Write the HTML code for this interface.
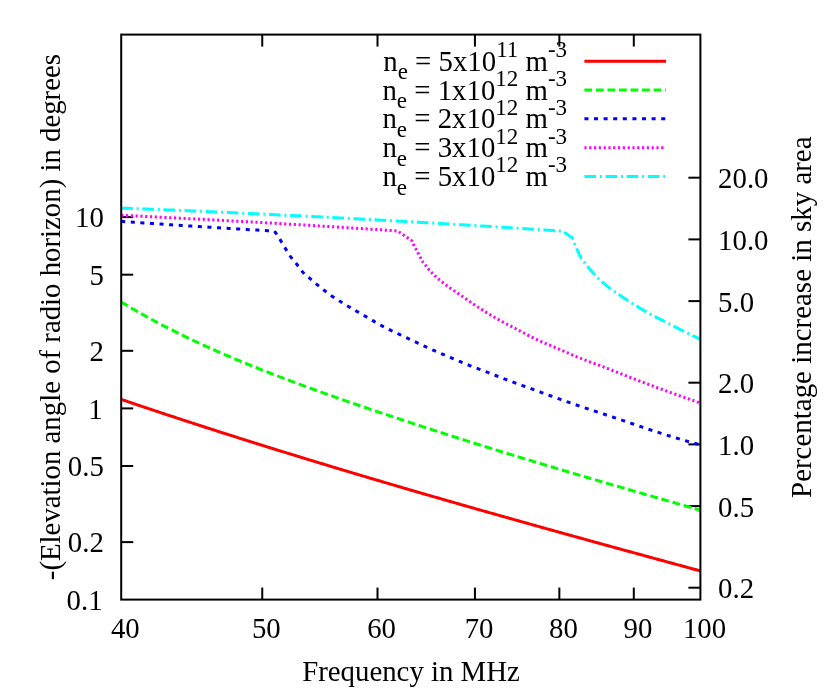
<!DOCTYPE html>
<html><head><meta charset="utf-8"><title>Radio horizon</title>
<style>html,body{margin:0;padding:0;background:#fff;}svg{display:block;will-change:transform;}text{font-family:"Liberation Serif",serif;}</style></head>
<body>
<svg width="830" height="692" viewBox="0 0 830 692">
<rect x="0" y="0" width="830" height="692" fill="#ffffff"/>
<g fill="none" stroke="#000" stroke-width="2.0" stroke-linecap="butt">
<path d="M121.2,542.11 h12.0"/>
<path d="M121.2,465.99 h12.0"/>
<path d="M121.2,408.40 h12.0"/>
<path d="M121.2,350.81 h12.0"/>
<path d="M121.2,274.69 h12.0"/>
<path d="M121.2,217.10 h12.0"/>
<path d="M700.4,587.69 h-12.0"/>
<path d="M700.4,506.11 h-12.0"/>
<path d="M700.4,444.40 h-12.0"/>
<path d="M700.4,382.69 h-12.0"/>
<path d="M700.4,301.11 h-12.0"/>
<path d="M700.4,239.40 h-12.0"/>
<path d="M700.4,177.69 h-12.0"/>
<path d="M262.25,599.6 v-12.0"/>
<path d="M262.25,34.6 v12.0"/>
<path d="M377.50,599.6 v-12.0"/>
<path d="M377.50,34.6 v12.0"/>
<path d="M474.94,599.6 v-12.0"/>
<path d="M474.94,34.6 v12.0"/>
<path d="M559.35,599.6 v-12.0"/>
<path d="M559.35,34.6 v12.0"/>
<path d="M633.80,599.6 v-12.0"/>
<path d="M633.80,34.6 v12.0"/>
</g>
<g fill="none" stroke-width="3.0" stroke-linejoin="miter" stroke-linecap="butt">
<path d="M121.20,399.41 L123.20,400.09 L125.20,400.77 L127.20,401.44 L129.20,402.12 L131.20,402.79 L133.20,403.47 L135.20,404.14 L137.20,404.81 L139.20,405.49 L141.20,406.16 L143.20,406.83 L145.20,407.50 L147.20,408.16 L149.20,408.83 L151.20,409.50 L153.20,410.16 L155.20,410.83 L157.20,411.49 L159.20,412.16 L161.20,412.82 L163.20,413.48 L165.20,414.14 L167.20,414.80 L169.20,415.46 L171.20,416.12 L173.20,416.78 L175.20,417.44 L177.20,418.09 L179.20,418.75 L181.20,419.40 L183.20,420.06 L185.20,420.71 L187.20,421.36 L189.20,422.01 L191.20,422.66 L193.20,423.31 L195.20,423.96 L197.20,424.61 L199.20,425.26 L201.20,425.91 L203.20,426.55 L205.20,427.20 L207.20,427.84 L209.20,428.49 L211.20,429.13 L213.20,429.77 L215.20,430.42 L217.20,431.06 L219.20,431.70 L221.20,432.34 L223.20,432.98 L225.20,433.61 L227.20,434.25 L229.20,434.89 L231.20,435.52 L233.20,436.16 L235.20,436.80 L237.20,437.43 L239.20,438.06 L241.20,438.70 L243.20,439.33 L245.20,439.96 L247.20,440.59 L249.20,441.22 L251.20,441.85 L253.20,442.48 L255.20,443.10 L257.20,443.73 L259.20,444.36 L261.20,444.98 L263.20,445.61 L265.20,446.23 L267.20,446.86 L269.20,447.48 L271.20,448.10 L273.20,448.72 L275.20,449.35 L277.20,449.97 L279.20,450.59 L281.20,451.20 L283.20,451.82 L285.20,452.44 L287.20,453.06 L289.20,453.68 L291.20,454.29 L293.20,454.91 L295.20,455.52 L297.20,456.14 L299.20,456.75 L301.20,457.36 L303.20,457.97 L305.20,458.59 L307.20,459.20 L309.20,459.81 L311.20,460.42 L313.20,461.03 L315.20,461.63 L317.20,462.24 L319.20,462.85 L321.20,463.46 L323.20,464.06 L325.20,464.67 L327.20,465.27 L329.20,465.88 L331.20,466.48 L333.20,467.09 L335.20,467.69 L337.20,468.29 L339.20,468.89 L341.20,469.49 L343.20,470.09 L345.20,470.69 L347.20,471.29 L349.20,471.89 L351.20,472.49 L353.20,473.09 L355.20,473.69 L357.20,474.28 L359.20,474.88 L361.20,475.47 L363.20,476.07 L365.20,476.66 L367.20,477.26 L369.20,477.85 L371.20,478.44 L373.20,479.04 L375.20,479.63 L377.20,480.22 L379.20,480.81 L381.20,481.40 L383.20,481.99 L385.20,482.58 L387.20,483.17 L389.20,483.76 L391.20,484.35 L393.20,484.93 L395.20,485.52 L397.20,486.11 L399.20,486.69 L401.20,487.28 L403.20,487.86 L405.20,488.45 L407.20,489.03 L409.20,489.61 L411.20,490.20 L413.20,490.78 L415.20,491.36 L417.20,491.94 L419.20,492.53 L421.20,493.11 L423.20,493.69 L425.20,494.27 L427.20,494.85 L429.20,495.42 L431.20,496.00 L433.20,496.58 L435.20,497.16 L437.20,497.74 L439.20,498.31 L441.20,498.89 L443.20,499.46 L445.20,500.04 L447.20,500.62 L449.20,501.19 L451.20,501.76 L453.20,502.34 L455.20,502.91 L457.20,503.48 L459.20,504.06 L461.20,504.63 L463.20,505.20 L465.20,505.77 L467.20,506.34 L469.20,506.91 L471.20,507.48 L473.20,508.05 L475.20,508.62 L477.20,509.19 L479.20,509.76 L481.20,510.33 L483.20,510.90 L485.20,511.46 L487.20,512.03 L489.20,512.60 L491.20,513.16 L493.20,513.73 L495.20,514.30 L497.20,514.86 L499.20,515.43 L501.20,515.99 L503.20,516.56 L505.20,517.12 L507.20,517.68 L509.20,518.25 L511.20,518.81 L513.20,519.37 L515.20,519.93 L517.20,520.50 L519.20,521.06 L521.20,521.62 L523.20,522.18 L525.20,522.74 L527.20,523.30 L529.20,523.86 L531.20,524.42 L533.20,524.98 L535.20,525.54 L537.20,526.10 L539.20,526.66 L541.20,527.22 L543.20,527.77 L545.20,528.33 L547.20,528.89 L549.20,529.45 L551.20,530.00 L553.20,530.56 L555.20,531.11 L557.20,531.67 L559.20,532.23 L561.20,532.78 L563.20,533.34 L565.20,533.89 L567.20,534.45 L569.20,535.00 L571.20,535.56 L573.20,536.11 L575.20,536.66 L577.20,537.22 L579.20,537.77 L581.20,538.32 L583.20,538.87 L585.20,539.43 L587.20,539.98 L589.20,540.53 L591.20,541.08 L593.20,541.63 L595.20,542.19 L597.20,542.74 L599.20,543.29 L601.20,543.84 L603.20,544.39 L605.20,544.94 L607.20,545.49 L609.20,546.04 L611.20,546.59 L613.20,547.14 L615.20,547.69 L617.20,548.24 L619.20,548.78 L621.20,549.33 L623.20,549.88 L625.20,550.43 L627.20,550.98 L629.20,551.53 L631.20,552.07 L633.20,552.62 L635.20,553.17 L637.20,553.72 L639.20,554.26 L641.20,554.81 L643.20,555.36 L645.20,555.90 L647.20,556.45 L649.20,557.00 L651.20,557.54 L653.20,558.09 L655.20,558.63 L657.20,559.18 L659.20,559.72 L661.20,560.27 L663.20,560.81 L665.20,561.36 L667.20,561.91 L669.20,562.45 L671.20,562.99 L673.20,563.54 L675.20,564.08 L677.20,564.63 L679.20,565.17 L681.20,565.72 L683.20,566.26 L685.20,566.81 L687.20,567.35 L689.20,567.89 L691.20,568.44 L693.20,568.98 L695.20,569.52 L697.20,570.07 L699.20,570.61 L700.40,570.94" stroke="#ff0000"/>
<path d="M121.15,301.96 L123.15,303.17 L125.15,304.38 L127.15,305.57 L129.15,306.76 L131.15,307.93 L133.15,309.10 L135.15,310.26 L137.15,311.40 L139.15,312.54 L141.15,313.67 L143.15,314.80 L145.15,315.91 L147.15,317.01 L149.15,318.11 L151.15,319.20 L153.15,320.28 L155.15,321.35 L157.15,322.42 L159.15,323.48 L161.15,324.53 L163.15,325.57 L165.15,326.60 L167.15,327.63 L169.15,328.65 L171.15,329.67 L173.15,330.67 L175.15,331.67 L177.15,332.67 L179.15,333.65 L181.15,334.63 L183.15,335.61 L185.15,336.58 L187.15,337.54 L189.15,338.49 L191.15,339.44 L193.15,340.39 L195.15,341.32 L197.15,342.26 L199.15,343.18 L201.15,344.11 L203.15,345.02 L205.15,345.93 L207.15,346.84 L209.15,347.74 L211.15,348.63 L213.15,349.52 L215.15,350.41 L217.15,351.29 L219.15,352.17 L221.15,353.04 L223.15,353.90 L225.15,354.77 L227.15,355.62 L229.15,356.48 L231.15,357.33 L233.15,358.17 L235.15,359.01 L237.15,359.85 L239.15,360.68 L241.15,361.51 L243.15,362.34 L245.15,363.16 L247.15,363.97 L249.15,364.79 L251.15,365.60 L253.15,366.41 L255.15,367.21 L257.15,368.01 L259.15,368.81 L261.15,369.60 L263.15,370.39 L265.15,371.18 L267.15,371.96 L269.15,372.74 L271.15,373.52 L273.15,374.30 L275.15,375.07 L277.15,375.84 L279.15,376.60 L281.15,377.37 L283.15,378.13 L285.15,378.89 L287.15,379.64 L289.15,380.40 L291.15,381.15 L293.15,381.90 L295.15,382.64 L297.15,383.38 L299.15,384.13 L301.15,384.86 L303.15,385.60 L305.15,386.34 L307.15,387.07 L309.15,387.80 L311.15,388.53 L313.15,389.25 L315.15,389.98 L317.15,390.70 L319.15,391.42 L321.15,392.14 L323.15,392.85 L325.15,393.57 L327.15,394.28 L329.15,394.99 L331.15,395.70 L333.15,396.41 L335.15,397.11 L337.15,397.82 L339.15,398.52 L341.15,399.22 L343.15,399.92 L345.15,400.62 L347.15,401.31 L349.15,402.01 L351.15,402.70 L353.15,403.39 L355.15,404.08 L357.15,404.77 L359.15,405.46 L361.15,406.15 L363.15,406.83 L365.15,407.51 L367.15,408.20 L369.15,408.88 L371.15,409.56 L373.15,410.24 L375.15,410.91 L377.15,411.59 L379.15,412.26 L381.15,412.94 L383.15,413.61 L385.15,414.28 L387.15,414.95 L389.15,415.62 L391.15,416.29 L393.15,416.95 L395.15,417.62 L397.15,418.28 L399.15,418.95 L401.15,419.61 L403.15,420.27 L405.15,420.93 L407.15,421.59 L409.15,422.25 L411.15,422.91 L413.15,423.56 L415.15,424.22 L417.15,424.87 L419.15,425.53 L421.15,426.18 L423.15,426.83 L425.15,427.48 L427.15,428.13 L429.15,428.78 L431.15,429.43 L433.15,430.07 L435.15,430.72 L437.15,431.36 L439.15,432.01 L441.15,432.65 L443.15,433.30 L445.15,433.94 L447.15,434.58 L449.15,435.22 L451.15,435.86 L453.15,436.49 L455.15,437.13 L457.15,437.77 L459.15,438.40 L461.15,439.04 L463.15,439.67 L465.15,440.31 L467.15,440.94 L469.15,441.57 L471.15,442.20 L473.15,442.83 L475.15,443.46 L477.15,444.09 L479.15,444.72 L481.15,445.34 L483.15,445.97 L485.15,446.59 L487.15,447.22 L489.15,447.84 L491.15,448.46 L493.15,449.09 L495.15,449.71 L497.15,450.33 L499.15,450.95 L501.15,451.57 L503.15,452.18 L505.15,452.80 L507.15,453.42 L509.15,454.03 L511.15,454.65 L513.15,455.26 L515.15,455.88 L517.15,456.49 L519.15,457.10 L521.15,457.71 L523.15,458.32 L525.15,458.93 L527.15,459.54 L529.15,460.15 L531.15,460.75 L533.15,461.36 L535.15,461.97 L537.15,462.57 L539.15,463.18 L541.15,463.78 L543.15,464.38 L545.15,464.98 L547.15,465.59 L549.15,466.19 L551.15,466.79 L553.15,467.39 L555.15,467.98 L557.15,468.58 L559.15,469.18 L561.15,469.78 L563.15,470.37 L565.15,470.97 L567.15,471.56 L569.15,472.16 L571.15,472.75 L573.15,473.34 L575.15,473.93 L577.15,474.52 L579.15,475.12 L581.15,475.71 L583.15,476.29 L585.15,476.88 L587.15,477.47 L589.15,478.06 L591.15,478.65 L593.15,479.23 L595.15,479.82 L597.15,480.40 L599.15,480.99 L601.15,481.57 L603.15,482.16 L605.15,482.74 L607.15,483.32 L609.15,483.91 L611.15,484.49 L613.15,485.07 L615.15,485.65 L617.15,486.23 L619.15,486.81 L621.15,487.39 L623.15,487.97 L625.15,488.55 L627.15,489.13 L629.15,489.71 L631.15,490.29 L633.15,490.87 L635.15,491.45 L637.15,492.02 L639.15,492.60 L641.15,493.18 L643.15,493.76 L645.15,494.33 L647.15,494.91 L649.15,495.49 L651.15,496.06 L653.15,496.64 L655.15,497.22 L657.15,497.80 L659.15,498.37 L661.15,498.95 L663.15,499.53 L665.15,500.10 L667.15,500.68 L669.15,501.26 L671.15,501.84 L673.15,502.42 L675.15,502.99 L677.15,503.57 L679.15,504.15 L681.15,504.73 L683.15,505.31 L685.15,505.89 L687.15,506.47 L689.15,507.05 L691.15,507.64 L693.15,508.22 L695.15,508.80 L697.15,509.39 L699.15,509.97 L700.53,510.37" stroke="#00ff00" stroke-dasharray="7.7 3.83"/>
<path d="M121.20,221.39 L123.20,221.53 L125.20,221.67 L127.20,221.81 L129.20,221.95 L131.20,222.08 L133.20,222.22 L135.20,222.36 L137.20,222.50 L139.20,222.63 L141.20,222.77 L143.20,222.90 L145.20,223.04 L147.20,223.18 L149.20,223.31 L151.20,223.44 L153.20,223.58 L155.20,223.71 L157.20,223.85 L159.20,223.98 L161.20,224.11 L163.20,224.25 L165.20,224.38 L167.20,224.51 L169.20,224.64 L171.20,224.77 L173.20,224.90 L175.20,225.04 L177.20,225.17 L179.20,225.30 L181.20,225.43 L183.20,225.56 L185.20,225.68 L187.20,225.81 L189.20,225.94 L191.20,226.07 L193.20,226.20 L195.20,226.33 L197.20,226.45 L199.20,226.58 L201.20,226.71 L203.20,226.83 L205.20,226.96 L207.20,227.08 L209.20,227.21 L211.20,227.33 L213.20,227.46 L215.20,227.58 L217.20,227.71 L219.20,227.83 L221.20,227.95 L223.20,228.08 L225.20,228.20 L227.20,228.32 L229.20,228.44 L231.20,228.57 L233.20,228.69 L235.20,228.81 L237.20,228.93 L239.20,229.05 L241.20,229.17 L243.20,229.29 L245.20,229.41 L247.20,229.53 L249.20,229.65 L251.20,229.77 L253.20,229.89 L255.20,230.00 L257.20,230.12 L259.20,230.24 L261.20,230.36 L263.20,230.47 L265.20,230.59 L267.20,230.70 L269.20,230.82 L271.20,230.94 L273.20,231.05 L274.40,231.12 L276.40,233.96 L278.40,237.01 L280.40,240.16 L282.40,243.45 L284.40,246.85 L286.40,250.13 L288.40,253.34 L290.40,256.34 L292.40,258.98 L294.40,261.38 L296.40,263.77 L298.40,266.42 L300.40,269.22 L302.40,271.76 L304.40,273.78 L306.40,275.51 L308.40,277.14 L310.40,278.83 L312.40,280.58 L314.40,282.32 L316.40,284.03 L318.40,285.69 L320.40,287.32 L322.40,288.91 L324.40,290.47 L326.40,292.00 L328.40,293.52 L330.40,294.99 L332.40,296.40 L334.40,297.75 L336.40,299.06 L338.40,300.33 L340.40,301.58 L342.40,302.80 L344.40,304.02 L346.40,305.22 L348.40,306.42 L350.40,307.61 L352.40,308.79 L354.40,309.95 L356.40,311.10 L358.40,312.24 L360.40,313.39 L362.40,314.53 L364.40,315.68 L366.40,316.84 L368.40,318.02 L370.40,319.21 L372.40,320.41 L374.40,321.60 L376.40,322.77 L378.40,323.92 L380.40,325.04 L382.40,326.11 L384.40,327.15 L386.40,328.16 L388.40,329.15 L390.40,330.12 L392.40,331.08 L394.40,332.03 L396.40,332.97 L398.40,333.92 L400.40,334.88 L402.40,335.83 L404.40,336.77 L406.40,337.70 L408.40,338.64 L410.40,339.57 L412.40,340.50 L414.40,341.43 L416.40,342.36 L418.40,343.30 L420.40,344.24 L422.40,345.19 L424.40,346.13 L426.40,347.07 L428.40,348.01 L430.40,348.93 L432.40,349.84 L434.40,350.73 L436.40,351.61 L438.40,352.47 L440.40,353.31 L442.40,354.15 L444.40,354.99 L446.40,355.82 L448.40,356.65 L450.40,357.48 L452.40,358.32 L454.40,359.16 L456.40,360.01 L458.40,360.86 L460.40,361.70 L462.40,362.54 L464.40,363.37 L466.40,364.19 L468.40,365.00 L470.40,365.79 L472.40,366.57 L474.40,367.33 L476.40,368.08 L478.40,368.82 L480.40,369.57 L482.40,370.31 L484.40,371.06 L486.40,371.82 L488.40,372.59 L490.40,373.37 L492.40,374.16 L494.40,374.96 L496.40,375.76 L498.40,376.56 L500.40,377.36 L502.40,378.14 L504.40,378.92 L506.40,379.68 L508.40,380.43 L510.40,381.17 L512.40,381.90 L514.40,382.63 L516.40,383.36 L518.40,384.08 L520.40,384.81 L522.40,385.54 L524.40,386.26 L526.40,386.99 L528.40,387.72 L530.40,388.45 L532.40,389.17 L534.40,389.90 L536.40,390.62 L538.40,391.35 L540.40,392.07 L542.40,392.80 L544.40,393.53 L546.40,394.26 L548.40,395.00 L550.40,395.73 L552.40,396.46 L554.40,397.19 L556.40,397.92 L558.40,398.64 L560.40,399.36 L562.40,400.07 L564.40,400.78 L566.40,401.49 L568.40,402.20 L570.40,402.90 L572.40,403.60 L574.40,404.30 L576.40,404.99 L578.40,405.67 L580.40,406.35 L582.40,407.02 L584.40,407.68 L586.40,408.34 L588.40,409.00 L590.40,409.65 L592.40,410.31 L594.40,410.97 L596.40,411.63 L598.40,412.30 L600.40,412.96 L602.40,413.63 L604.40,414.29 L606.40,414.96 L608.40,415.63 L610.40,416.29 L612.40,416.96 L614.40,417.63 L616.40,418.31 L618.40,418.98 L620.40,419.65 L622.40,420.33 L624.40,421.00 L626.40,421.68 L628.40,422.36 L630.40,423.05 L632.40,423.73 L634.40,424.44 L636.40,425.15 L638.40,425.86 L640.40,426.53 L642.40,427.20 L644.40,427.86 L646.40,428.52 L648.40,429.18 L650.40,429.83 L652.40,430.48 L654.40,431.13 L656.40,431.78 L658.40,432.42 L660.40,433.06 L662.40,433.70 L664.40,434.33 L666.40,434.96 L668.40,435.59 L670.40,436.21 L672.40,436.83 L674.40,437.44 L676.40,438.04 L678.40,438.65 L680.40,439.24 L682.40,439.84 L684.40,440.42 L686.40,441.00 L688.40,441.58 L690.40,442.15 L692.40,442.71 L694.40,443.27 L696.40,443.82 L698.40,444.36 L700.40,444.90" stroke="#0000ff" stroke-dasharray="4.05 5.55"/>
<path d="M121.20,215.31 L123.20,215.41 L125.20,215.50 L127.20,215.59 L129.20,215.69 L131.20,215.78 L133.20,215.88 L135.20,215.97 L137.20,216.07 L139.20,216.16 L141.20,216.26 L143.20,216.35 L145.20,216.45 L147.20,216.55 L149.20,216.64 L151.20,216.74 L153.20,216.84 L155.20,216.94 L157.20,217.03 L159.20,217.13 L161.20,217.23 L163.20,217.33 L165.20,217.43 L167.20,217.53 L169.20,217.63 L171.20,217.73 L173.20,217.83 L175.20,217.93 L177.20,218.03 L179.20,218.13 L181.20,218.24 L183.20,218.34 L185.20,218.44 L187.20,218.54 L189.20,218.64 L191.20,218.75 L193.20,218.85 L195.20,218.96 L197.20,219.06 L199.20,219.16 L201.20,219.27 L203.20,219.37 L205.20,219.48 L207.20,219.58 L209.20,219.69 L211.20,219.80 L213.20,219.90 L215.20,220.01 L217.20,220.11 L219.20,220.22 L221.20,220.33 L223.20,220.44 L225.20,220.55 L227.20,220.65 L229.20,220.76 L231.20,220.87 L233.20,220.98 L235.20,221.09 L237.20,221.20 L239.20,221.31 L241.20,221.42 L243.20,221.53 L245.20,221.64 L247.20,221.75 L249.20,221.86 L251.20,221.98 L253.20,222.09 L255.20,222.20 L257.20,222.31 L259.20,222.43 L261.20,222.54 L263.20,222.65 L265.20,222.77 L267.20,222.88 L269.20,223.00 L271.20,223.11 L273.20,223.23 L275.20,223.34 L277.20,223.46 L279.20,223.57 L281.20,223.69 L283.20,223.81 L285.20,223.92 L287.20,224.04 L289.20,224.16 L291.20,224.27 L293.20,224.39 L295.20,224.51 L297.20,224.63 L299.20,224.75 L301.20,224.87 L303.20,224.99 L305.20,225.11 L307.20,225.23 L309.20,225.35 L311.20,225.47 L313.20,225.59 L315.20,225.71 L317.20,225.83 L319.20,225.95 L321.20,226.07 L323.20,226.20 L325.20,226.32 L327.20,226.44 L329.20,226.57 L331.20,226.69 L333.20,226.81 L335.20,226.94 L337.20,227.06 L339.20,227.19 L341.20,227.31 L343.20,227.44 L345.20,227.56 L347.20,227.69 L349.20,227.81 L351.20,227.94 L353.20,228.07 L355.20,228.19 L357.20,228.32 L359.20,228.45 L361.20,228.58 L363.20,228.70 L365.20,228.83 L367.20,228.96 L369.20,229.09 L371.20,229.22 L373.20,229.35 L375.20,229.48 L377.20,229.61 L379.20,229.74 L381.20,229.87 L383.20,230.00 L385.20,230.13 L387.20,230.26 L389.20,230.40 L391.20,230.53 L393.20,230.66 L395.20,230.79 L397.20,230.93 L397.50,230.95 L411.80,240.70 L412.80,242.97 L413.80,245.05 L414.80,246.89 L415.80,248.71 L416.80,250.68 L417.80,252.67 L418.80,254.54 L419.80,256.32 L420.80,258.16 L421.80,260.12 L422.80,261.85 L423.80,263.21 L424.80,264.41 L425.80,265.66 L426.80,267.00 L427.80,268.34 L428.80,269.55 L429.80,270.64 L430.80,271.68 L431.80,272.70 L432.80,273.73 L433.80,274.74 L434.80,275.72 L435.80,276.65 L436.80,277.55 L437.80,278.43 L438.80,279.28 L439.80,280.12 L440.80,280.93 L441.80,281.73 L442.80,282.51 L443.80,283.29 L444.80,284.06 L445.80,284.82 L446.80,285.58 L447.80,286.34 L448.80,287.09 L449.80,287.83 L450.80,288.55 L451.80,289.25 L452.80,289.94 L453.80,290.63 L454.80,291.31 L455.80,291.98 L456.80,292.64 L457.80,293.30 L458.80,293.96 L459.80,294.64 L460.80,295.32 L461.80,296.01 L462.80,296.70 L463.80,297.40 L464.80,298.10 L465.80,298.81 L466.80,299.51 L467.80,300.22 L468.80,300.92 L469.80,301.62 L470.80,302.32 L471.80,303.02 L472.80,303.72 L473.80,304.40 L474.80,305.08 L475.80,305.76 L476.80,306.42 L477.80,307.08 L478.80,307.73 L479.80,308.37 L480.80,309.01 L481.80,309.64 L482.80,310.27 L483.80,310.89 L484.80,311.51 L485.80,312.13 L486.80,312.74 L487.80,313.35 L488.80,313.95 L489.80,314.55 L490.80,315.15 L491.80,315.74 L492.80,316.33 L493.80,316.91 L494.80,317.49 L495.80,318.06 L496.80,318.63 L497.80,319.20 L498.80,319.76 L499.80,320.31 L500.80,320.86 L501.80,321.41 L502.80,321.94 L503.80,322.48 L504.80,323.01 L505.80,323.54 L506.80,324.06 L507.80,324.58 L508.80,325.10 L509.80,325.62 L510.80,326.13 L511.80,326.65 L512.80,327.17 L513.80,327.68 L514.80,328.20 L515.80,328.72 L516.80,329.24 L517.80,329.77 L518.80,330.29 L519.80,330.82 L520.80,331.36 L521.80,331.89 L522.80,332.42 L523.80,332.96 L524.80,333.49 L525.80,334.02 L526.80,334.55 L527.80,335.08 L528.80,335.61 L529.80,336.13 L530.80,336.64 L531.80,337.15 L532.80,337.65 L533.80,338.15 L534.80,338.64 L535.80,339.12 L536.80,339.59 L537.80,340.05 L538.80,340.51 L539.80,340.95 L540.80,341.40 L541.80,341.83 L542.80,342.26 L543.80,342.69 L544.80,343.12 L545.80,343.54 L546.80,343.96 L547.80,344.38 L548.80,344.79 L549.80,345.21 L550.80,345.63 L551.80,346.05 L552.80,346.47 L553.80,346.89 L554.80,347.31 L555.80,347.74 L556.80,348.18 L557.80,348.61 L558.80,349.05 L559.80,349.48 L560.80,349.92 L561.80,350.36 L562.80,350.80 L563.80,351.24 L564.80,351.68 L565.80,352.11 L566.80,352.55 L567.80,352.98 L568.80,353.42 L569.80,353.85 L570.80,354.28 L571.80,354.70 L572.80,355.12 L573.80,355.54 L574.80,355.96 L575.80,356.37 L576.80,356.78 L577.80,357.19 L578.80,357.59 L579.80,357.99 L580.80,358.39 L581.80,358.79 L582.80,359.19 L583.80,359.58 L584.80,359.97 L585.80,360.36 L586.80,360.74 L587.80,361.12 L588.80,361.50 L589.80,361.88 L590.80,362.25 L591.80,362.61 L592.80,362.97 L593.80,363.34 L594.80,363.70 L595.80,364.06 L596.80,364.42 L597.80,364.78 L598.80,365.15 L599.80,365.52 L600.80,365.90 L601.80,366.28 L602.80,366.66 L603.80,367.04 L604.80,367.43 L605.80,367.81 L606.80,368.20 L607.80,368.58 L608.80,368.97 L609.80,369.36 L610.80,369.75 L611.80,370.15 L612.80,370.54 L613.80,370.93 L614.80,371.33 L615.80,371.72 L616.80,372.12 L617.80,372.51 L618.80,372.91 L619.80,373.30 L620.80,373.70 L621.80,374.10 L622.80,374.49 L623.80,374.89 L624.80,375.28 L625.80,375.68 L626.80,376.07 L627.80,376.47 L628.80,376.86 L629.80,377.26 L630.80,377.65 L631.80,378.04 L632.80,378.43 L633.80,378.82 L634.80,379.21 L635.80,379.59 L636.80,379.98 L637.80,380.36 L638.80,380.74 L639.80,381.12 L640.80,381.50 L641.80,381.88 L642.80,382.26 L643.80,382.64 L644.80,383.01 L645.80,383.39 L646.80,383.76 L647.80,384.14 L648.80,384.51 L649.80,384.88 L650.80,385.26 L651.80,385.63 L652.80,386.00 L653.80,386.37 L654.80,386.74 L655.80,387.11 L656.80,387.48 L657.80,387.85 L658.80,388.21 L659.80,388.58 L660.80,388.95 L661.80,389.31 L662.80,389.68 L663.80,390.04 L664.80,390.41 L665.80,390.77 L666.80,391.14 L667.80,391.50 L668.80,391.86 L669.80,392.23 L670.80,392.59 L671.80,392.95 L672.80,393.31 L673.80,393.67 L674.80,394.03 L675.80,394.39 L676.80,394.75 L677.80,395.11 L678.80,395.47 L679.80,395.83 L680.80,396.19 L681.80,396.54 L682.80,396.90 L683.80,397.26 L684.80,397.61 L685.80,397.97 L686.80,398.32 L687.80,398.68 L688.80,399.03 L689.80,399.38 L690.80,399.74 L691.80,400.09 L692.80,400.44 L693.80,400.79 L694.80,401.14 L695.80,401.49 L696.80,401.84 L697.80,402.19 L698.80,402.54 L699.80,402.89 L700.40,403.10" stroke="#ff00ff" stroke-dasharray="2.15 2.65"/>
<path d="M121.20,208.06 L123.20,208.13 L125.20,208.21 L127.20,208.29 L129.20,208.36 L131.20,208.44 L133.20,208.52 L135.20,208.60 L137.20,208.67 L139.20,208.75 L141.20,208.83 L143.20,208.91 L145.20,208.99 L147.20,209.07 L149.20,209.15 L151.20,209.23 L153.20,209.31 L155.20,209.39 L157.20,209.47 L159.20,209.55 L161.20,209.63 L163.20,209.71 L165.20,209.79 L167.20,209.88 L169.20,209.96 L171.20,210.04 L173.20,210.12 L175.20,210.21 L177.20,210.29 L179.20,210.37 L181.20,210.46 L183.20,210.54 L185.20,210.62 L187.20,210.71 L189.20,210.79 L191.20,210.88 L193.20,210.96 L195.20,211.05 L197.20,211.14 L199.20,211.22 L201.20,211.31 L203.20,211.39 L205.20,211.48 L207.20,211.57 L209.20,211.66 L211.20,211.74 L213.20,211.83 L215.20,211.92 L217.20,212.01 L219.20,212.10 L221.20,212.19 L223.20,212.28 L225.20,212.36 L227.20,212.45 L229.20,212.54 L231.20,212.63 L233.20,212.73 L235.20,212.82 L237.20,212.91 L239.20,213.00 L241.20,213.09 L243.20,213.18 L245.20,213.27 L247.20,213.37 L249.20,213.46 L251.20,213.55 L253.20,213.64 L255.20,213.74 L257.20,213.83 L259.20,213.93 L261.20,214.02 L263.20,214.11 L265.20,214.21 L267.20,214.30 L269.20,214.40 L271.20,214.49 L273.20,214.59 L275.20,214.69 L277.20,214.78 L279.20,214.88 L281.20,214.98 L283.20,215.07 L285.20,215.17 L287.20,215.27 L289.20,215.37 L291.20,215.46 L293.20,215.56 L295.20,215.66 L297.20,215.76 L299.20,215.86 L301.20,215.96 L303.20,216.06 L305.20,216.16 L307.20,216.26 L309.20,216.36 L311.20,216.46 L313.20,216.56 L315.20,216.66 L317.20,216.76 L319.20,216.86 L321.20,216.97 L323.20,217.07 L325.20,217.17 L327.20,217.27 L329.20,217.38 L331.20,217.48 L333.20,217.58 L335.20,217.69 L337.20,217.79 L339.20,217.90 L341.20,218.00 L343.20,218.11 L345.20,218.21 L347.20,218.32 L349.20,218.42 L351.20,218.53 L353.20,218.63 L355.20,218.74 L357.20,218.85 L359.20,218.95 L361.20,219.06 L363.20,219.17 L365.20,219.28 L367.20,219.38 L369.20,219.49 L371.20,219.60 L373.20,219.71 L375.20,219.82 L377.20,219.93 L379.20,220.04 L381.20,220.15 L383.20,220.26 L385.20,220.37 L387.20,220.48 L389.20,220.59 L391.20,220.70 L393.20,220.81 L395.20,220.92 L397.20,221.03 L399.20,221.15 L401.20,221.26 L403.20,221.37 L405.20,221.48 L407.20,221.60 L409.20,221.71 L411.20,221.82 L413.20,221.94 L415.20,222.05 L417.20,222.17 L419.20,222.28 L421.20,222.40 L423.20,222.51 L425.20,222.63 L427.20,222.74 L429.20,222.86 L431.20,222.98 L433.20,223.09 L435.20,223.21 L437.20,223.33 L439.20,223.44 L441.20,223.56 L443.20,223.68 L445.20,223.80 L447.20,223.92 L449.20,224.03 L451.20,224.15 L453.20,224.27 L455.20,224.39 L457.20,224.51 L459.20,224.63 L461.20,224.75 L463.20,224.87 L465.20,224.99 L467.20,225.11 L469.20,225.24 L471.20,225.36 L473.20,225.48 L475.20,225.60 L477.20,225.72 L479.20,225.85 L481.20,225.97 L483.20,226.09 L485.20,226.21 L487.20,226.34 L489.20,226.46 L491.20,226.59 L493.20,226.71 L495.20,226.83 L497.20,226.96 L499.20,227.08 L501.20,227.21 L503.20,227.34 L505.20,227.46 L507.20,227.59 L509.20,227.71 L511.20,227.84 L513.20,227.97 L515.20,228.10 L517.20,228.22 L519.20,228.35 L521.20,228.48 L523.20,228.61 L525.20,228.74 L527.20,228.86 L529.20,228.99 L531.20,229.12 L533.20,229.25 L535.20,229.38 L537.20,229.51 L539.20,229.64 L541.20,229.77 L543.20,229.90 L545.20,230.04 L547.20,230.17 L549.20,230.30 L551.20,230.43 L553.20,230.56 L555.20,230.69 L557.20,230.83 L559.20,230.96 L561.20,231.09 L562.45,231.18 L572.40,237.90 L573.40,240.60 L574.40,243.19 L575.40,245.69 L576.40,248.07 L577.40,250.37 L578.40,252.67 L579.40,254.87 L580.40,256.87 L581.40,258.55 L582.40,259.90 L583.40,261.08 L584.40,262.25 L585.40,263.54 L586.40,264.87 L587.40,266.20 L588.40,267.48 L589.40,268.70 L590.40,269.90 L591.40,271.08 L592.40,272.24 L593.40,273.38 L594.40,274.48 L595.40,275.56 L596.40,276.60 L597.40,277.60 L598.40,278.56 L599.40,279.50 L600.40,280.42 L601.40,281.31 L602.40,282.18 L603.40,283.03 L604.40,283.87 L605.40,284.70 L606.40,285.51 L607.40,286.31 L608.40,287.09 L609.40,287.86 L610.40,288.61 L611.40,289.36 L612.40,290.09 L613.40,290.81 L614.40,291.53 L615.40,292.24 L616.40,292.94 L617.40,293.64 L618.40,294.33 L619.40,295.01 L620.40,295.69 L621.40,296.36 L622.40,297.03 L623.40,297.69 L624.40,298.34 L625.40,299.00 L626.40,299.65 L627.40,300.29 L628.40,300.93 L629.40,301.57 L630.40,302.21 L631.40,302.84 L632.40,303.47 L633.40,304.10 L634.40,304.73 L635.40,305.35 L636.40,305.97 L637.40,306.59 L638.40,307.20 L639.40,307.80 L640.40,308.41 L641.40,309.00 L642.40,309.60 L643.40,310.19 L644.40,310.77 L645.40,311.35 L646.40,311.92 L647.40,312.49 L648.40,313.05 L649.40,313.60 L650.40,314.15 L651.40,314.69 L652.40,315.23 L653.40,315.76 L654.40,316.29 L655.40,316.81 L656.40,317.33 L657.40,317.85 L658.40,318.36 L659.40,318.88 L660.40,319.39 L661.40,319.91 L662.40,320.42 L663.40,320.93 L664.40,321.45 L665.40,321.96 L666.40,322.48 L667.40,322.99 L668.40,323.50 L669.40,324.01 L670.40,324.52 L671.40,325.03 L672.40,325.53 L673.40,326.04 L674.40,326.54 L675.40,327.05 L676.40,327.55 L677.40,328.05 L678.40,328.55 L679.40,329.05 L680.40,329.55 L681.40,330.05 L682.40,330.55 L683.40,331.05 L684.40,331.54 L685.40,332.04 L686.40,332.54 L687.40,333.03 L688.40,333.53 L689.40,334.02 L690.40,334.51 L691.40,335.00 L692.40,335.50 L693.40,335.99 L694.40,336.48 L695.40,336.97 L696.40,337.45 L697.40,337.94 L698.40,338.43 L699.40,338.91 L700.40,339.40" stroke="#00ffff" stroke-dasharray="11.6 3.82 2 3.72"/>
</g>
<g fill="none" stroke-width="3.0" stroke-linecap="butt">
<path d="M584.4,61.3 L666.0,61.3" stroke="#ff0000"/>
<path d="M584.4,90.1 L666.0,90.1" stroke="#00ff00" stroke-dasharray="7.7 3.83"/>
<path d="M584.4,118.8 L666.0,118.8" stroke="#0000ff" stroke-dasharray="4.05 5.55"/>
<path d="M584.4,147.8 L666.0,147.8" stroke="#ff00ff" stroke-dasharray="2.15 2.65"/>
<path d="M584.4,176.5 L666.0,176.5" stroke="#00ffff" stroke-dasharray="11.6 3.82 2 3.72"/>
</g>
<rect fill="none" stroke="#000" stroke-width="2.0" x="121.2" y="34.6" width="579.20" height="565.00" stroke-linejoin="miter"/>
<g font-family="'Liberation Serif', serif" font-size="28.8px" fill="#000">
<text x="102.6" y="609.80" text-anchor="end">0.1</text>
<text x="103.8" y="552.21" text-anchor="end">0.2</text>
<text x="103.8" y="476.09" text-anchor="end">0.5</text>
<text x="102.6" y="418.50" text-anchor="end">1</text>
<text x="103.8" y="360.91" text-anchor="end">2</text>
<text x="103.8" y="284.79" text-anchor="end">5</text>
<text x="103.8" y="227.20" text-anchor="end">10</text>
<text x="718.1" y="598.19" text-anchor="start">0.2</text>
<text x="718.1" y="516.61" text-anchor="start">0.5</text>
<text x="718.1" y="454.90" text-anchor="start">1.0</text>
<text x="718.1" y="393.19" text-anchor="start">2.0</text>
<text x="718.1" y="311.61" text-anchor="start">5.0</text>
<text x="718.1" y="249.90" text-anchor="start">10.0</text>
<text x="718.1" y="188.19" text-anchor="start">20.0</text>
<text x="125.30" y="638.4" text-anchor="middle">40</text>
<text x="266.35" y="638.4" text-anchor="middle">50</text>
<text x="381.60" y="638.4" text-anchor="middle">60</text>
<text x="479.04" y="638.4" text-anchor="middle">70</text>
<text x="563.45" y="638.4" text-anchor="middle">80</text>
<text x="637.90" y="638.4" text-anchor="middle">90</text>
<text x="704.50" y="638.4" text-anchor="middle">100</text>
<text x="411" y="681.3" text-anchor="middle">Frequency in MHz</text>
<text transform="translate(60,317.1) rotate(-90)" text-anchor="middle">-(Elevation angle of radio horizon) in degrees</text>
<text transform="translate(810.6,317.2) rotate(-90)" font-size="28.95px" text-anchor="middle">Percentage increase in sky area</text>
<text x="567.1" y="70.70" text-anchor="end">n<tspan font-size="23.0px" dy="8.5">e</tspan><tspan dy="-8.5"> = 5x10</tspan><tspan font-size="23.0px" dy="-13.7">11</tspan><tspan dy="13.7"> m</tspan><tspan font-size="23.0px" dy="-13.7">-3</tspan></text>
<text x="567.1" y="99.60" text-anchor="end">n<tspan font-size="23.0px" dy="8.5">e</tspan><tspan dy="-8.5"> = 1x10</tspan><tspan font-size="23.0px" dy="-13.7">12</tspan><tspan dy="13.7"> m</tspan><tspan font-size="23.0px" dy="-13.7">-3</tspan></text>
<text x="567.1" y="128.40" text-anchor="end">n<tspan font-size="23.0px" dy="8.5">e</tspan><tspan dy="-8.5"> = 2x10</tspan><tspan font-size="23.0px" dy="-13.7">12</tspan><tspan dy="13.7"> m</tspan><tspan font-size="23.0px" dy="-13.7">-3</tspan></text>
<text x="567.1" y="157.30" text-anchor="end">n<tspan font-size="23.0px" dy="8.5">e</tspan><tspan dy="-8.5"> = 3x10</tspan><tspan font-size="23.0px" dy="-13.7">12</tspan><tspan dy="13.7"> m</tspan><tspan font-size="23.0px" dy="-13.7">-3</tspan></text>
<text x="567.1" y="186.10" text-anchor="end">n<tspan font-size="23.0px" dy="8.5">e</tspan><tspan dy="-8.5"> = 5x10</tspan><tspan font-size="23.0px" dy="-13.7">12</tspan><tspan dy="13.7"> m</tspan><tspan font-size="23.0px" dy="-13.7">-3</tspan></text>
</g>
</svg>
</body></html>
